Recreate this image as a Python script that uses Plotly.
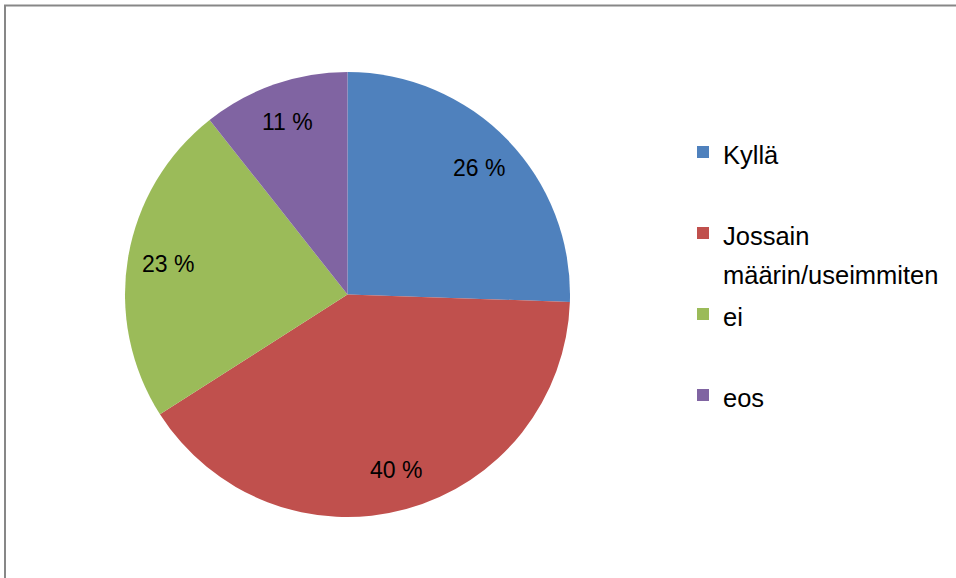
import math
import plotly.graph_objects as go

labels = ["Kyllä", "Jossain määrin/useimmiten", "ei", "eos"]
legend_text = ["Kyllä<br> ", "Jossain<br>määrin/useimmiten", "ei<br> ", "eos"]
values = [12, 19, 11, 5]
colors = ["#4F81BD", "#C0504D", "#9BBB59", "#8064A2"]

W, H = 956, 578
cx, cy, r = 347.5, 294.5, 222.5
label_frac = 0.82

total = sum(values)
pct_text = [f"{round(100 * v / total)} %" for v in values]

fig = go.Figure()
fig.add_trace(go.Pie(
    labels=[f'<span style="font-size:25.5px">{t}</span>' for t in legend_text],
    values=values,
    sort=False,
    direction="clockwise",
    rotation=0,
    marker=dict(colors=colors, line=dict(width=0)),
    textinfo="none",
    hoverinfo="label+percent",
    domain=dict(x=[(cx - r) / W, (cx + r) / W], y=[1 - (cy + r) / H, 1 - (cy - r) / H]),
))

# data labels placed along each slice's mid-angle
cum = 0
for v, t in zip(values, pct_text):
    mid = (cum + v / 2) / total * 2 * math.pi
    cum += v
    px = cx + label_frac * r * math.sin(mid)
    py = cy - label_frac * r * math.cos(mid)
    fig.add_annotation(x=px / W, y=1 - py / H, xref="paper", yref="paper",
                       text=t, showarrow=False, xanchor="center", yanchor="middle",
                       font=dict(size=23, color="#000000", family="Liberation Sans"))

border = "#878787"
fig.add_shape(type="line", xref="paper", yref="paper", x0=5 / W, x1=5 / W, y0=-0.1, y1=1 - 5 / H,
              line=dict(color=border, width=2))
fig.add_shape(type="line", xref="paper", yref="paper", x0=4 / W, x1=1.1, y0=1 - 5.5 / H, y1=1 - 5.5 / H,
              line=dict(color=border, width=2))

fig.update_layout(
    width=W, height=H,
    margin=dict(l=0, r=0, t=0, b=0),
    paper_bgcolor="white",
    plot_bgcolor="white",
    font=dict(family="Liberation Sans", color="#000000"),
    showlegend=True,
    legend=dict(x=683 / W, y=1 - 126 / H, xanchor="left", yanchor="top",
                font=dict(size=30, family="Liberation Sans", color="#000000"),
                valign="top", bgcolor="rgba(0,0,0,0)", tracegroupgap=0),
)

fig.write_html("out.html")
